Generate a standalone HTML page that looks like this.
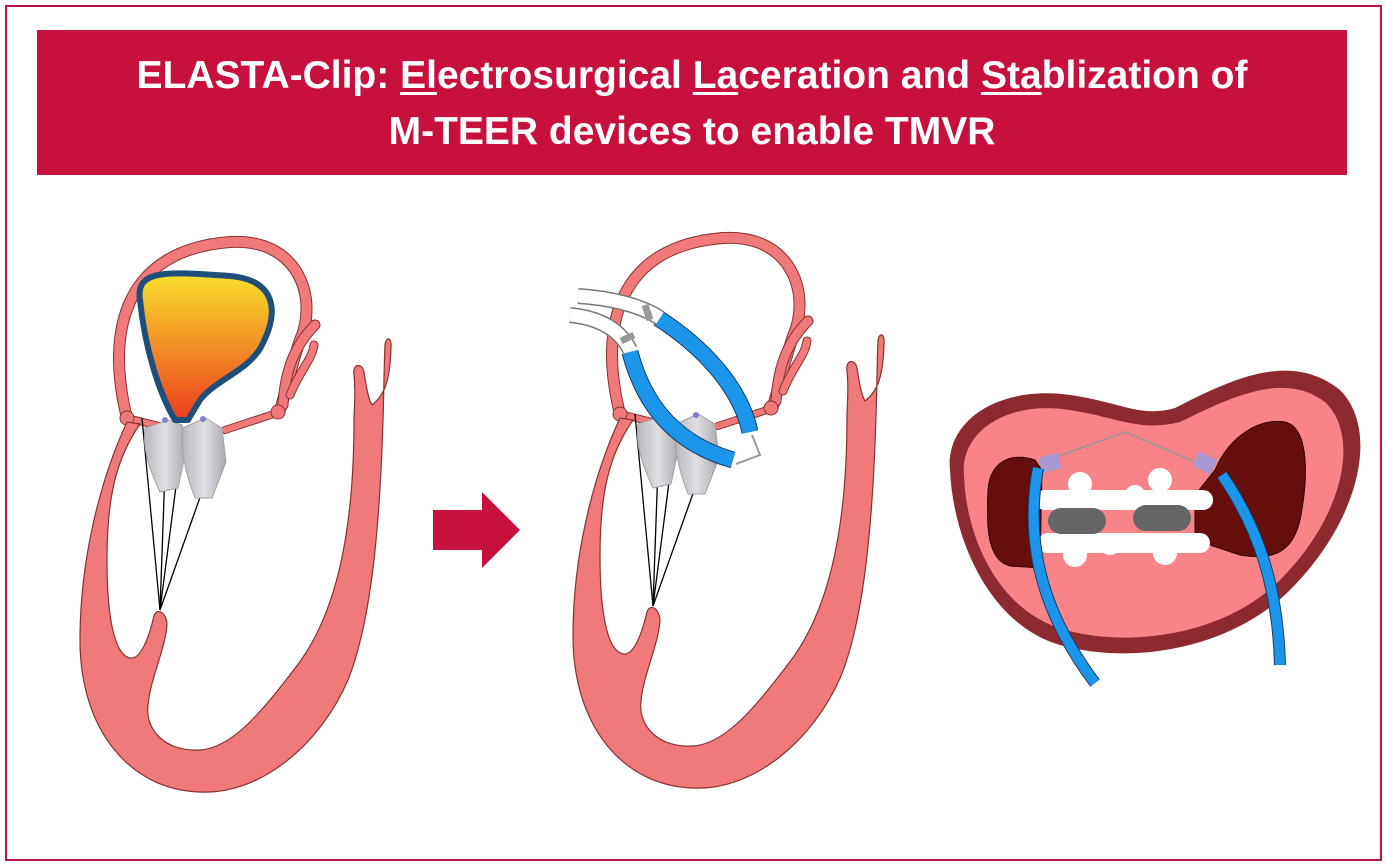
<!DOCTYPE html>
<html><head><meta charset="utf-8"><style>
html,body{margin:0;padding:0;background:#fff;}
body{width:1386px;height:866px;position:relative;overflow:hidden;font-family:"Liberation Sans",sans-serif;}
.frame{position:absolute;left:5px;top:5px;width:1373px;height:852px;border:2px solid #b8164a;}
.banner{position:absolute;left:37px;top:30px;width:1310px;height:145px;background:#c8103f;color:#fff;font-weight:bold;font-size:39px;text-align:center;line-height:56px;padding-top:18px;box-sizing:border-box;}
.banner u{text-decoration-thickness:3px;text-underline-offset:4px;}
svg{position:absolute;left:0;top:0;}
</style></head><body>
<div class="frame"></div>
<div class="banner">ELASTA-Clip: <u>El</u>ectrosurgical <u>La</u>ceration and <u>Sta</u>blization of<br>M-TEER devices to enable TMVR</div>
<svg width="1386" height="866" viewBox="0 0 1386 866">
<defs>
<linearGradient id="g1" x1="0" y1="0" x2="0" y2="1"><stop offset="0" stop-color="#f8e02c"/><stop offset="1" stop-color="#ec3d1e"/></linearGradient>
<linearGradient id="cg" x1="0" y1="0" x2="1" y2="0"><stop offset="0" stop-color="#b8b8bc"/><stop offset="0.5" stop-color="#e0e0e4"/><stop offset="1" stop-color="#a8a8ae"/></linearGradient>
<g id="heart">
 <path d="M127,418 C105,330 125,250 230,242 C300,238 318,300 300,340 C290,370 285,395 280,410" fill="none" stroke="#8a3030" stroke-width="12" stroke-linecap="round"/>
 <path d="M127,418 C105,330 125,250 230,242 C300,238 318,300 300,340 C290,370 285,395 280,410" fill="none" stroke="#f07a7a" stroke-width="10"/>
 <path d="M283,405 C285,370 295,345 315,325" fill="none" stroke="#8a3030" stroke-width="11" stroke-linecap="round"/>
 <path d="M283,405 C285,370 295,345 315,325" fill="none" stroke="#f07a7a" stroke-width="9" stroke-linecap="round"/>
 <path d="M290,395 C300,370 312,360 314,345" fill="none" stroke="#8a3030" stroke-width="9" stroke-linecap="round"/>
 <path d="M290,395 C300,370 312,360 314,345" fill="none" stroke="#f07a7a" stroke-width="7" stroke-linecap="round"/>
 <path d="M127,418 L175,430 M225,430 L280,412" stroke="#8a3030" stroke-width="8" stroke-linecap="round"/>
 <path d="M127,418 L175,430 M225,430 L280,412" stroke="#f07a7a" stroke-width="6" stroke-linecap="round"/>
 <circle cx="127" cy="418" r="7" fill="#f07a7a" stroke="#8a3030"/>
 <circle cx="278" cy="412" r="7" fill="#f07a7a" stroke="#8a3030"/>
 <path d="M127,422 C100,480 80,560 80,640 C80,730 130,790 200,792 C260,795 320,745 348,680 C372,620 380,520 383,420 C384,390 384,365 385,345 C386,336 392,337 391,348 C390,380 385,395 372,405 C368,398 366,385 364,372 C362,362 352,364 354,375 C356,395 354,410 354,420 C354,520 340,610 296,667 C262,712 232,748 200,750 C165,752 145,730 148,705 C150,680 165,650 167,625 C167,612 155,605 153,620 C148,640 140,660 130,658 C115,655 107,620 107,560 C107,500 115,460 140,424 Z" fill="#f07a7a" stroke="#8a3030" stroke-width="1.2"/>
 <g stroke="#000" stroke-width="1.3" fill="none">
  <line x1="160" y1="610" x2="142" y2="418"/>
  <line x1="160" y1="610" x2="165" y2="470"/>
  <line x1="160" y1="610" x2="182" y2="440"/>
  <line x1="160" y1="610" x2="208" y2="475"/>
 </g>
 <g fill="url(#cg)" stroke="#a0a0a6">
  <path d="M145,428 L168,420 L182,425 L186,450 L178,488 L160,492 C150,470 142,450 145,428Z"/>
  <path d="M183,428 L205,418 L222,428 L226,462 L212,498 L195,498 C186,475 180,450 183,428Z"/>
 </g>
 <circle cx="165" cy="420" r="3" fill="#8080d0"/>
 <circle cx="203" cy="419" r="3" fill="#8080d0"/>
</g>
</defs>
<use href="#heart"/>
<path d="M140,300 C135,268 170,272 230,276 C275,280 280,310 262,345 C250,370 215,380 200,400 L188,420 L175,420 C160,395 145,350 140,300Z" fill="url(#g1)" stroke="#1d4f7a" stroke-width="6" stroke-linejoin="round"/>
<use href="#heart" transform="translate(493,-4)"/>
<path d="M658,318 C700,345 740,385 750,432" fill="none" stroke="#1a3a6a" stroke-width="17"/>
<path d="M658,318 C700,345 740,385 750,432" fill="none" stroke="#1b96ea" stroke-width="15"/>
<path d="M630,352 C645,410 680,445 733,460" fill="none" stroke="#1a3a6a" stroke-width="17"/>
<path d="M630,352 C645,410 680,445 733,460" fill="none" stroke="#1b96ea" stroke-width="15"/>
<path d="M752,435 L760,455 L736,464" fill="none" stroke="#999" stroke-width="2"/>
<path d="M578,296 C610,298 640,305 660,318" fill="none" stroke="#777" stroke-width="16"/>
<path d="M578,296 C610,298 640,305 660,318" fill="none" stroke="#fff" stroke-width="13"/>
<path d="M570,315 C600,318 620,330 630,350" fill="none" stroke="#777" stroke-width="16"/>
<path d="M570,315 C600,318 620,330 630,350" fill="none" stroke="#fff" stroke-width="13"/>
<path d="M645,305 L650,320" stroke="#999" stroke-width="7"/>
<path d="M621,341 L634,335" stroke="#999" stroke-width="7"/>
<path d="M433,510 H482 V492 L520,530 L482,568 V550 H433 Z" fill="#c8103f"/>
<path d="M950,470 C945,420 1000,385 1070,395 C1120,402 1140,418 1175,408 C1230,380 1290,350 1340,390 C1380,430 1360,520 1290,590 C1230,650 1130,665 1060,645 C990,625 953,540 950,470Z" fill="#8c2a30"/>
<path d="M964,475 C960,430 1010,400 1070,410 C1120,418 1140,432 1180,422 C1235,395 1285,372 1325,402 C1360,435 1345,515 1280,580 C1225,635 1130,648 1065,630 C1000,612 966,540 964,475Z" fill="#f88488"/>
<path d="M1035,460 C1010,452 990,462 988,490 C986,530 988,560 1010,566 L1040,568 L1042,470Z" fill="#650e0c" stroke="#300" stroke-width="1"/>
<path d="M1215,470 C1230,435 1260,418 1285,422 C1310,428 1308,480 1300,520 C1292,555 1270,560 1240,555 L1195,540 L1195,495Z" fill="#650e0c" stroke="#300" stroke-width="1"/>
<path d="M1048,460 L1125,432 L1195,462" fill="none" stroke="#999" stroke-width="1.5"/>
<rect x="1040" y="455" width="20" height="16" fill="#a89ad0" transform="rotate(-15 1050 463)"/>
<rect x="1195" y="455" width="20" height="16" fill="#a89ad0" transform="rotate(25 1205 463)"/>
<g fill="#fff">
 <rect x="1035" y="490" width="178" height="20" rx="10"/>
 <rect x="1038" y="533" width="172" height="20" rx="10"/>
 <circle cx="1080" cy="484" r="12"/><circle cx="1160" cy="480" r="12"/>
 <circle cx="1075" cy="555" r="12"/><circle cx="1165" cy="553" r="12"/>
 <circle cx="1110" cy="500" r="10"/><circle cx="1135" cy="495" r="10"/>
 <circle cx="1110" cy="545" r="10"/><circle cx="1135" cy="543" r="10"/>
</g>
<rect x="1048" y="508" width="58" height="26" rx="13" fill="#666"/>
<rect x="1133" y="505" width="58" height="26" rx="13" fill="#666"/>
<path d="M1038,468 C1025,540 1040,610 1095,683" fill="none" stroke="#1a3a6a" stroke-width="12"/>
<path d="M1038,468 C1025,540 1040,610 1095,683" fill="none" stroke="#1b96ea" stroke-width="10"/>
<path d="M1222,475 C1260,530 1278,590 1280,665" fill="none" stroke="#1a3a6a" stroke-width="12"/>
<path d="M1222,475 C1260,530 1278,590 1280,665" fill="none" stroke="#1b96ea" stroke-width="10"/>
</svg>
</body></html>
